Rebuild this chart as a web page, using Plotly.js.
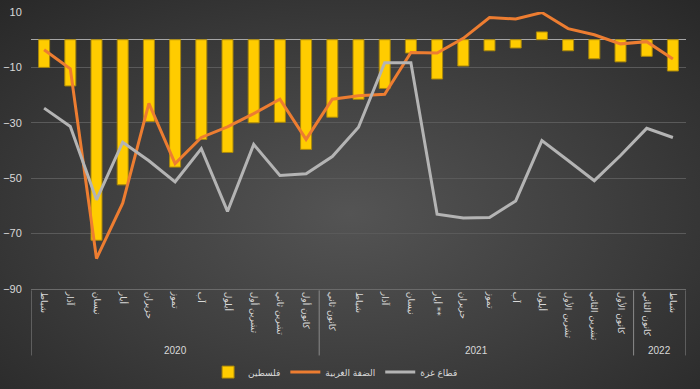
<!DOCTYPE html>
<html>
<head>
<meta charset="utf-8">
<script src="https://cdn.plot.ly/plotly-3.0.1.min.js"></script>
<style>
html,body{margin:0;padding:0;}
body{width:700px;height:389px;background:radial-gradient(ellipse 75% 80% at 50% 55%, #545454 0%, #404040 45%, #262626 100%);}
#chart{width:700px;height:389px;}
</style>
</head>
<body>
<div id="chart"></div>
<script>
const years = ["2020","2020","2020","2020","2020","2020","2020","2020","2020","2020","2020",
  "2021","2021","2021","2021","2021","2021","2021","2021","2021","2021","2021","2021",
  "2022","2022"];
const months = ["شباط","آذار","نيسان","أيار","حزيران","تموز","آب","أيلول","تشرين أول","تشرين ثاني","كانون أول",
  "كانون ثاني","شباط","آذار","نيسان","أيار **","حزيران","تموز","آب","أيلول","تشرين الأول","تشرين الثاني","كانون الأول",
  "كانون الثاني","شباط"];
const palestine = [-10,-16.7,-72.4,-52.4,-29.5,-46,-36,-40.7,-30,-29.8,-39.6,
  -28,-21.5,-17.6,-4.8,-14.2,-9.5,-4,-3,2.8,-4,-6.9,-8,-6,-11.3];
const westBank = [-3.6,-10.5,-79,-59,-23,-44.7,-35.3,-31.5,-26.7,-21.5,-36,
  -21.5,-20.2,-19.7,-4.6,-4.8,0.5,8,7.5,9.8,4,1.8,-1.5,-0.7,-7];
const gaza = [-24.7,-31.3,-57.8,-37,-43.7,-51.3,-39.3,-62,-37.8,-49,-48.4,
  -42.2,-31.6,-8.3,-8.3,-63,-64.4,-64.2,-58.2,-36.4,-43.6,-50.9,-41.8,-32,-35.3];
const names = ["فلسطين","الضفة الغربية","قطاع غزة"];

const idx = months.map((m,i)=>i);
const font = "DejaVu Sans, sans-serif";

// year groups
const groups = [];
years.forEach((y,i)=>{
  const g = groups[groups.length-1];
  if (g && g.year===y) g.end=i; else groups.push({year:y,start:i,end:i});
});
const shapes = [];
const annotations = [];
const divBottom = -0.24;
groups.forEach((g,k)=>{
  if (k===0) shapes.push({type:"line", xref:"x", yref:"paper", x0:g.start-0.5, x1:g.start-0.5, y0:-0.005, y1:divBottom, line:{color:"#8a8a8a", width:1}});
  shapes.push({type:"line", xref:"x", yref:"paper", x0:g.end+0.5, x1:g.end+0.5, y0:-0.005, y1:divBottom, line:{color:"#8a8a8a", width:1}});
  annotations.push({xref:"x", yref:"paper", x:(g.start+g.end)/2, y:-0.222, text:g.year, showarrow:false,
    font:{family:"Liberation Sans, Arial, sans-serif", size:10, color:"#D9D9D9"}, yanchor:"middle"});
});

const data = [
  {type:"bar", x:idx, y:palestine, name:names[0],
   marker:{color:"#FFCC00", line:{color:"#A8860A", width:1}}},
  {type:"scatter", mode:"lines", x:idx, y:westBank, name:names[1],
   line:{color:"#ED7D31", width:3}},
  {type:"scatter", mode:"lines", x:idx, y:gaza, name:names[2],
   line:{color:"#B4B4B4", width:3}}
];
const layout = {
  width:700, height:389,
  paper_bgcolor:"rgba(0,0,0,0)", plot_bgcolor:"rgba(0,0,0,0)",
  margin:{l:31, r:14, t:12, b:100, autoexpand:false},
  bargap:0.58,
  showlegend:true,
  legend:{orientation:"h", x:0.465, xanchor:"center", y:-0.30, yanchor:"middle",
    font:{family:font, size:9, color:"#D9D9D9"}, traceorder:"normal", itemwidth:30, tracegroupgap:0},
  xaxis:{range:[-0.5, months.length-0.5], tickvals:idx, ticktext:months, tickangle:90, showgrid:false,
    tickfont:{family:font, size:9, color:"#D9D9D9"}, zeroline:false, automargin:false,
    showline:true, linecolor:"#6a6a6a", linewidth:1, ticks:"", fixedrange:true},
  yaxis:{range:[-90,10], tick0:10, dtick:20, showgrid:true, gridcolor:"#5a5a5a", gridwidth:1,
    zeroline:true, zerolinecolor:"#A6A6A6", zerolinewidth:1, automargin:false,
    tickfont:{family:"Liberation Sans, Arial, sans-serif", size:11, color:"#D9D9D9"},
    ticks:"outside", ticklen:6, tickcolor:"rgba(0,0,0,0)", showline:false},
  shapes:shapes,
  annotations:annotations
};
Plotly.newPlot("chart", data, layout, {displayModeBar:false, staticPlot:true});
</script>
</body>
</html>
